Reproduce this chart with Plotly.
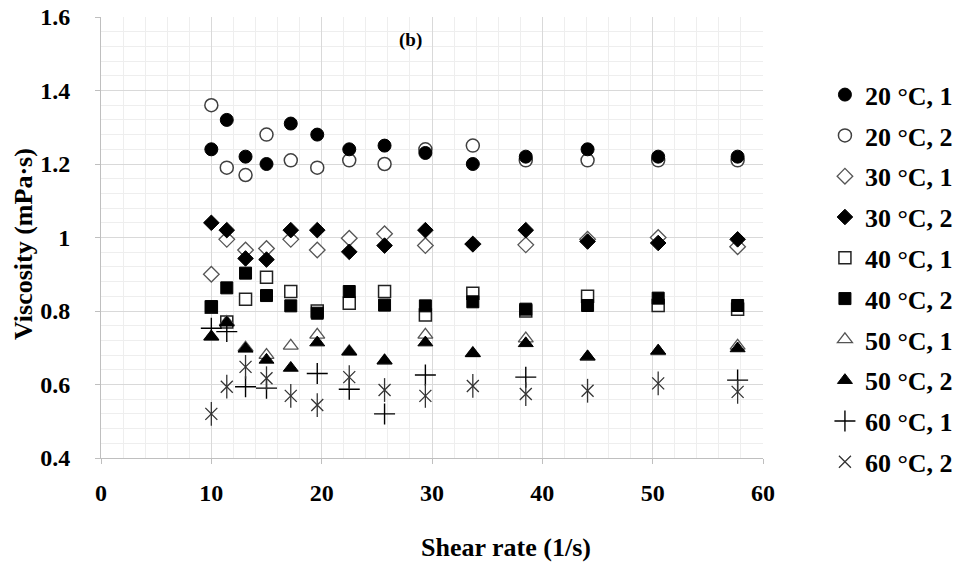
import plotly.graph_objects as go

# Shear rates (1/s) shared by every run
shear_rate = [10.0, 11.4, 13.1, 15.0, 17.2, 19.6, 22.5, 25.7, 29.4, 33.7, 38.5, 44.1, 50.5, 57.7]

# Viscosity (mPa·s) per temperature and repeat (None = no reading shown)
visc_20_1 = [1.24, 1.32, 1.22, 1.20, 1.31, 1.28, 1.24, 1.25, 1.23, 1.20, 1.22, 1.24, 1.22, 1.22]
visc_20_2 = [1.36, 1.19, 1.17, 1.28, 1.21, 1.19, 1.21, 1.20, 1.24, 1.25, 1.21, 1.21, 1.21, 1.21]
visc_30_1 = [0.900, 0.995, 0.966, 0.970, 0.995, 0.966, 0.998, 1.010, 0.978, 0.982, 0.980, 0.995, 1.000, 0.975]
visc_30_2 = [1.040, 1.020, 0.943, 0.940, 1.020, 1.020, 0.961, 0.978, 1.020, 0.982, 1.020, 0.989, 0.985, 0.995]
visc_40_1 = [0.810, 0.770, 0.832, 0.892, 0.853, 0.800, 0.821, 0.853, 0.789, 0.848, 0.800, 0.840, 0.815, 0.805]
visc_40_2 = [0.812, 0.863, 0.903, 0.842, 0.814, 0.794, 0.853, 0.816, 0.814, 0.825, 0.805, 0.815, 0.835, 0.815]
visc_50_1 = [0.730, 0.770, 0.700, 0.680, 0.705, 0.735, 0.690, 0.665, 0.735, 0.685, 0.725, 0.675, 0.690, 0.705]
visc_50_2 = [0.730, 0.768, 0.697, 0.667, 0.645, 0.714, 0.689, 0.665, 0.714, 0.685, 0.712, 0.676, 0.692, 0.698]
visc_60_1 = [0.753, 0.744, 0.594, 0.590, None, 0.630, 0.587, 0.520, 0.626, None, 0.620, None, None, 0.612]
visc_60_2 = [0.520, 0.594, 0.648, 0.617, 0.569, 0.544, 0.620, 0.585, 0.569, 0.596, 0.574, 0.583, 0.603, 0.580]

series_names = ["20 °C, 1", "20 °C, 2", "30 °C, 1", "30 °C, 2", "40 °C, 1",
                "40 °C, 2", "50 °C, 1", "50 °C, 2", "60 °C, 1", "60 °C, 2"]
series_values = [visc_20_1, visc_20_2, visc_30_1, visc_30_2, visc_40_1,
                 visc_40_2, visc_50_1, visc_50_2, visc_60_1, visc_60_2]

y_tick_vals = [0.4, 0.6, 0.8, 1.0, 1.2, 1.4, 1.6]
y_tick_text = ["0.4", "0.6", "0.8", "1", "1.2", "1.4", "1.6"]

SERIF = "Liberation Serif"

# Marker styling per series (open markers are white-filled with a grey outline)
styles = {
    "20 °C, 1": dict(symbol="circle", size=13, color="black", line=dict(color="black", width=1)),
    "20 °C, 2": dict(symbol="circle", size=13, color="white", line=dict(color="#404040", width=1.5)),
    "30 °C, 1": dict(symbol="diamond", size=12, color="white", line=dict(color="#555555", width=1.3)),
    "30 °C, 2": dict(symbol="diamond", size=12, color="black", line=dict(color="black", width=1)),
    "40 °C, 1": dict(symbol="square", size=12, color="white", line=dict(color="#222222", width=1.5)),
    "40 °C, 2": dict(symbol="square", size=12, color="black", line=dict(color="black", width=1)),
    "50 °C, 1": dict(symbol="triangle-up", size=13, color="white", line=dict(color="#555555", width=1.3)),
    "50 °C, 2": dict(symbol="triangle-up", size=13, color="black", line=dict(color="black", width=1)),
    "60 °C, 1": dict(symbol="cross-thin", size=15, color="black", line=dict(color="black", width=1.4)),
    "60 °C, 2": dict(symbol="x-thin", size=12, color="black", line=dict(color="#333333", width=1.3)),
}

# Hollow markers go underneath, solid ones on top; legend keeps the series order
draw_order = [1, 2, 4, 6, 8, 0, 3, 5, 7, 9]

fig = go.Figure()
for idx in draw_order:
    name = series_names[idx]
    fig.add_trace(go.Scatter(
        x=shear_rate, y=series_values[idx], mode="markers", name=name,
        marker=styles[name], legendgroup=name, legendrank=idx + 1,
        hoverinfo="skip",
    ))
    if name == "60 °C, 2":
        # vertical stroke completing the six-armed star
        fig.add_trace(go.Scatter(
            x=shear_rate, y=series_values[idx], mode="markers", showlegend=False,
            legendgroup=name,
            marker=dict(symbol="line-ns", size=17, line=dict(color="#333333", width=1.3)),
            hoverinfo="skip",
        ))

axis_common = dict(
    showline=True, linecolor="#bfbfbf", linewidth=1,
    ticks="outside", ticklen=5, tickcolor="#bfbfbf",
    showgrid=True, gridcolor="#d9d9d9", gridwidth=1,
    zeroline=False, automargin=False,
    tickfont=dict(family=SERIF, size=24, color="black", weight="bold"),
)

fig.update_xaxes(
    range=[0, 60], tick0=0, dtick=10,
    minor=dict(dtick=2, showgrid=True, gridcolor="#eeeeee", ticks=""),
    ticklabelstandoff=8,
    **axis_common,
)
fig.update_yaxes(
    range=[0.4, 1.6], tickvals=y_tick_vals, ticktext=y_tick_text,
    minor=dict(tickvals=[0.4 + 0.04 * k for k in range(31)], showgrid=True,
               gridcolor="#eeeeee", ticks=""),
    ticklabelstandoff=20,
    **axis_common,
)

title_font = dict(family=SERIF, size=26, color="black", weight="bold")
fig.add_annotation(
    text="Shear rate (1/s)", x=0.612, y=-0.204, xref="paper", yref="paper",
    xanchor="center", yanchor="middle", showarrow=False, font=title_font,
)
fig.add_annotation(
    text="Viscosity (mPa·s)", x=-0.118, y=0.485, xref="paper", yref="paper",
    xanchor="center", yanchor="middle", showarrow=False, textangle=-90,
    font=title_font,
)
fig.add_annotation(
    text="(b)", x=0.468, y=0.948, xref="paper", yref="paper",
    xanchor="center", yanchor="middle", showarrow=False,
    font=dict(family=SERIF, size=19, color="black", weight="bold"),
)

fig.update_layout(
    width=957, height=565,
    margin=dict(l=101, r=194, t=17, b=107, autoexpand=False),
    plot_bgcolor="white", paper_bgcolor="white",
    showlegend=True,
    legend=dict(
        x=0.862, xanchor="left", xref="container",
        y=0.874, yanchor="top", yref="container",
        maxheight=540,
        font=dict(family=SERIF, size=26, color="black", weight="bold"),
        tracegroupgap=4, bgcolor="rgba(0,0,0,0)",
    ),
)

fig.write_html("out.html")
